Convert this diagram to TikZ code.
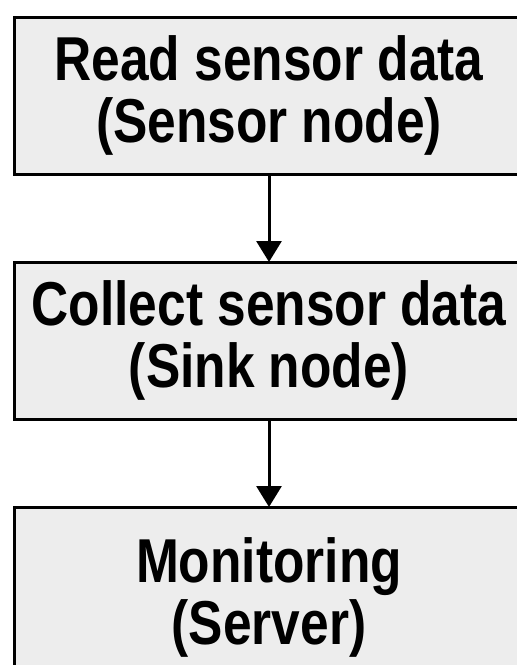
\documentclass[tikz,border=0pt]{standalone}
\usepackage{fontspec}
\newfontfamily\boxfont[FakeStretch=0.83]{Liberation Sans}
\usetikzlibrary{arrows.meta,positioning}
\definecolor{ink}{HTML}{000000}
\definecolor{boxgray}{HTML}{EDEDED}
\tikzset{
  stagebox/.style={
    draw=ink, fill=boxgray, line width=3pt,
    minimum width=510pt, minimum height=157pt,
    align=center, inner sep=0pt, outer sep=0pt,
    font=\boxfont\bfseries\fontsize{62}{62}\selectfont
  },
  flowarrow/.style={draw=ink, line width=3pt,
    -{Triangle[length=21pt,width=25pt]}}
}

\begin{document}
\begin{tikzpicture}[x=1pt,y=-1pt,node distance=88pt]
  \useasboundingbox (0,0) rectangle (517,665);
  \node[stagebox,anchor=north west] (read) at (14,17)
    {Read sensor data\\(Sensor node)};
  \node[stagebox,below=of read] (collect)
    {Collect sensor data\\(Sink node)};
  \node[stagebox,below=of collect,minimum height=181pt] (monitor)
    {Monitoring\\(Server)};
  \draw[flowarrow] (read) -- (collect);
  \draw[flowarrow] (collect) -- (monitor);
\end{tikzpicture}
\end{document}
